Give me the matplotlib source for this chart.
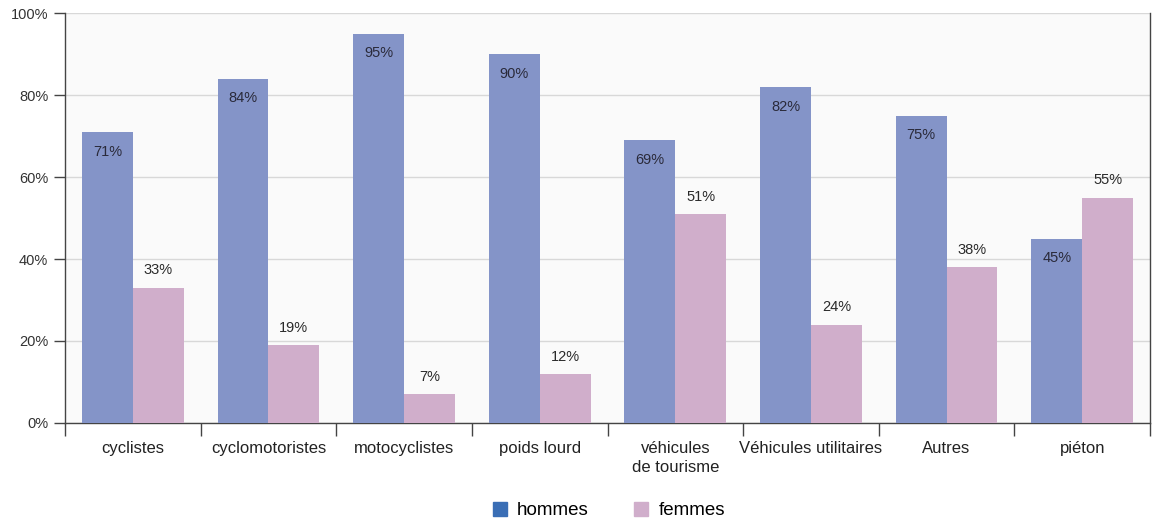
import matplotlib.pyplot as plt
import numpy as np
from matplotlib.patches import Patch

categories = ["cyclistes", "cyclomotoristes", "motocyclistes", "poids lourd",
              "véhicules\nde tourisme", "Véhicules utilitaires", "Autres", "piéton"]
hommes = [71, 84, 95, 90, 69, 82, 75, 45]
femmes = [33, 19, 7, 12, 51, 24, 38, 55]
yticks = [0, 20, 40, 60, 80, 100]

c_h = "#8494c8"
c_f = "#d0aecb"

plt.rcParams['font.family'] = ['Liberation Sans', 'DejaVu Sans']

fig = plt.figure(figsize=(11.53, 5.22), dpi=100)
ax = fig.add_axes([0.0564, 0.1897, 0.9410, 0.7853])
ax.set_facecolor("#fafafa")

x = np.arange(len(categories))
w = 0.375
ax.bar(x - w / 2, hommes, w, color=c_h, zorder=3)
ax.bar(x + w / 2, femmes, w, color=c_f, zorder=3)

for xi, v in zip(x, hommes):
    ax.text(xi - w / 2, v - 4.8, f"{v}%", ha="center", va="center",
            fontsize=10.5, color="#2a2a3a", zorder=4)
for xi, v in zip(x, femmes):
    ax.text(xi + w / 2, v + 4.2, f"{v}%", ha="center", va="center",
            fontsize=10.5, color="#2a2a2a", zorder=4)

ax.set_xlim(-0.5, len(categories) - 0.5)
ax.set_ylim(0, 100)
ax.set_yticks(yticks)
ax.set_yticklabels([f"{t}%" for t in yticks], fontsize=10.5, color="#333333")
ax.yaxis.grid(True, color="#d8d8d8", linewidth=1, zorder=0)

ax.set_xticks(x)
ax.set_xticklabels(categories, fontsize=12, color="#222222", linespacing=1.3)
ax.tick_params(axis="x", length=0, pad=13)
ax.set_xticks(np.arange(len(categories) + 1) - 0.5, minor=True)
ax.tick_params(axis="x", which="minor", length=9, color="#444444", width=1)
ax.tick_params(axis="y", length=8, color="#444444", width=1, pad=4)

for s in ["left", "right", "bottom"]:
    ax.spines[s].set_color("#444444")
    ax.spines[s].set_linewidth(1)
ax.spines["top"].set_visible(False)

handles = [Patch(color="#3a6eb5", label="hommes"), Patch(color=c_f, label="femmes")]
fig.legend(handles=handles, loc="center", bbox_to_anchor=(0.528, 0.022), ncol=2,
           frameon=False, fontsize=13.5, handlelength=0.75, handleheight=0.75,
           columnspacing=2.4, handletextpad=0.55)

fig.savefig("out.png", dpi=100, facecolor="white")
